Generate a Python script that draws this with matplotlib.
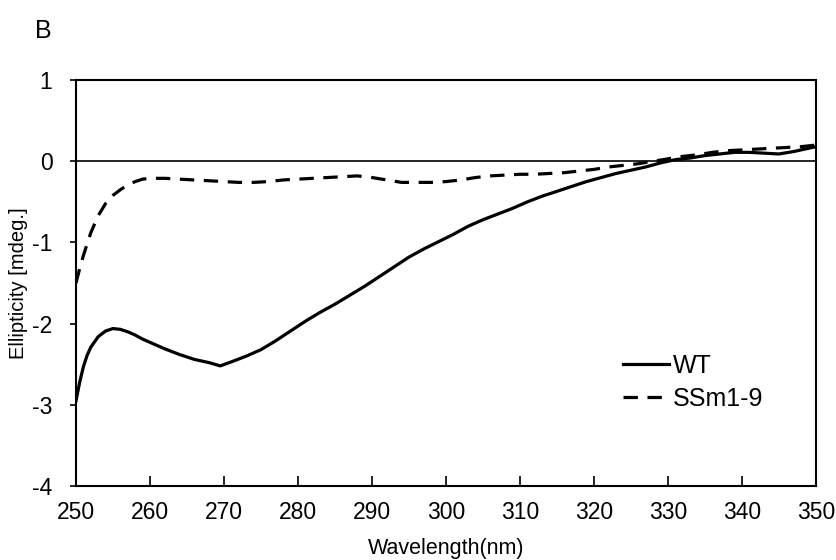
import matplotlib
matplotlib.use('Agg')
import matplotlib.pyplot as plt
import numpy as np

plt.rcParams['font.family'] = ['Liberation Sans', 'DejaVu Sans']
plt.rcParams['axes.unicode_minus'] = False

# ––– WT spectrum
wt_nm = [250, 250.5, 251, 251.5, 252, 253, 254, 255, 256, 257, 258, 259, 260, 262, 264, 266, 268, 269.5,
         271, 273, 275, 277, 279, 281, 283, 285, 287, 289, 291, 293, 295, 297, 299, 301, 303, 305,
         307, 309, 311, 313, 315, 317, 319, 321, 323, 325, 327, 329, 331, 333, 335, 337, 339, 341,
         343, 345, 347, 349, 350]
wt_cd = [-2.95, -2.72, -2.53, -2.39, -2.29, -2.16, -2.09, -2.06, -2.07, -2.10, -2.14, -2.19, -2.23, -2.31,
         -2.38, -2.44, -2.48, -2.52, -2.47, -2.40, -2.32, -2.21, -2.09, -1.97, -1.86, -1.76, -1.65,
         -1.54, -1.42, -1.30, -1.18, -1.08, -0.99, -0.90, -0.80, -0.72, -0.65, -0.58, -0.50, -0.43,
         -0.37, -0.31, -0.25, -0.20, -0.15, -0.11, -0.07, -0.02, 0.02, 0.04, 0.07, 0.09, 0.11, 0.11,
         0.10, 0.09, 0.12, 0.16, 0.18]

# ––– SSm1-9 spectrum
ss_nm = [250, 250.5, 251, 252, 253, 254, 255, 256, 257, 258, 259, 260, 262, 264, 266, 268, 270,
         272, 274, 276, 278, 280, 282, 284, 286, 288, 290, 292, 294, 296, 298, 300, 302, 304, 306,
         308, 310, 312, 314, 316, 318, 320, 322, 324, 326, 328, 330, 332, 334, 336, 338, 340, 342,
         344, 346, 348, 350]
ss_cd = [-1.50, -1.32, -1.16, -0.88, -0.67, -0.52, -0.42, -0.35, -0.29, -0.25, -0.22, -0.21, -0.21,
         -0.22, -0.23, -0.24, -0.25, -0.26, -0.26, -0.25, -0.23, -0.22, -0.21, -0.20, -0.19, -0.18,
         -0.20, -0.23, -0.26, -0.26, -0.26, -0.25, -0.23, -0.20, -0.18, -0.17, -0.16, -0.16, -0.15,
         -0.14, -0.12, -0.10, -0.07, -0.05, -0.03, 0.00, 0.03, 0.06, 0.08, 0.11, 0.13, 0.14, 0.15,
         0.16, 0.17, 0.18, 0.20]

x_ticks = [250, 260, 270, 280, 290, 300, 310, 320, 330, 340, 350]
y_ticks = [-4, -3, -2, -1, 0, 1]

fig = plt.figure(figsize=(8.37, 5.60), dpi=100)
ax = fig.add_axes([0.0908, 0.132, 0.884, 0.725])

ax.plot(wt_nm, wt_cd, color='black', linewidth=2.3, label='WT')
ax.plot(ss_nm, ss_cd, color='black', linewidth=2.3, dashes=[4.5, 3], label='SSm1-9')
ax.axhline(0, color='black', linewidth=1.2, zorder=0)

ax.set_xlim(250, 350)
ax.set_ylim(-4, 1)
ax.set_xticks(x_ticks)
ax.set_yticks(y_ticks)
ax.tick_params(axis='x', direction='in', length=7, width=1.2, labelsize=16.5, pad=11)
ax.tick_params(axis='y', direction='out', length=4, width=1.2, labelsize=16.5, pad=13)
for s in ax.spines.values():
    s.set_linewidth(1.5)

ax.set_xlabel('Wavelength(nm)', fontsize=15.5, labelpad=10)
ax.set_ylabel('Ellipticity [mdeg.]', fontsize=14.5, labelpad=3)

ax.legend(loc='center left', bbox_to_anchor=(0.726, 0.256), frameon=False, fontsize=18,
          handlelength=1.85, handletextpad=0.15, labelspacing=0.35, borderaxespad=0, borderpad=0.4)

fig.text(0.042, 0.945, 'B', fontsize=18, ha='left', va='center')

plt.savefig('out.png', dpi=100)
